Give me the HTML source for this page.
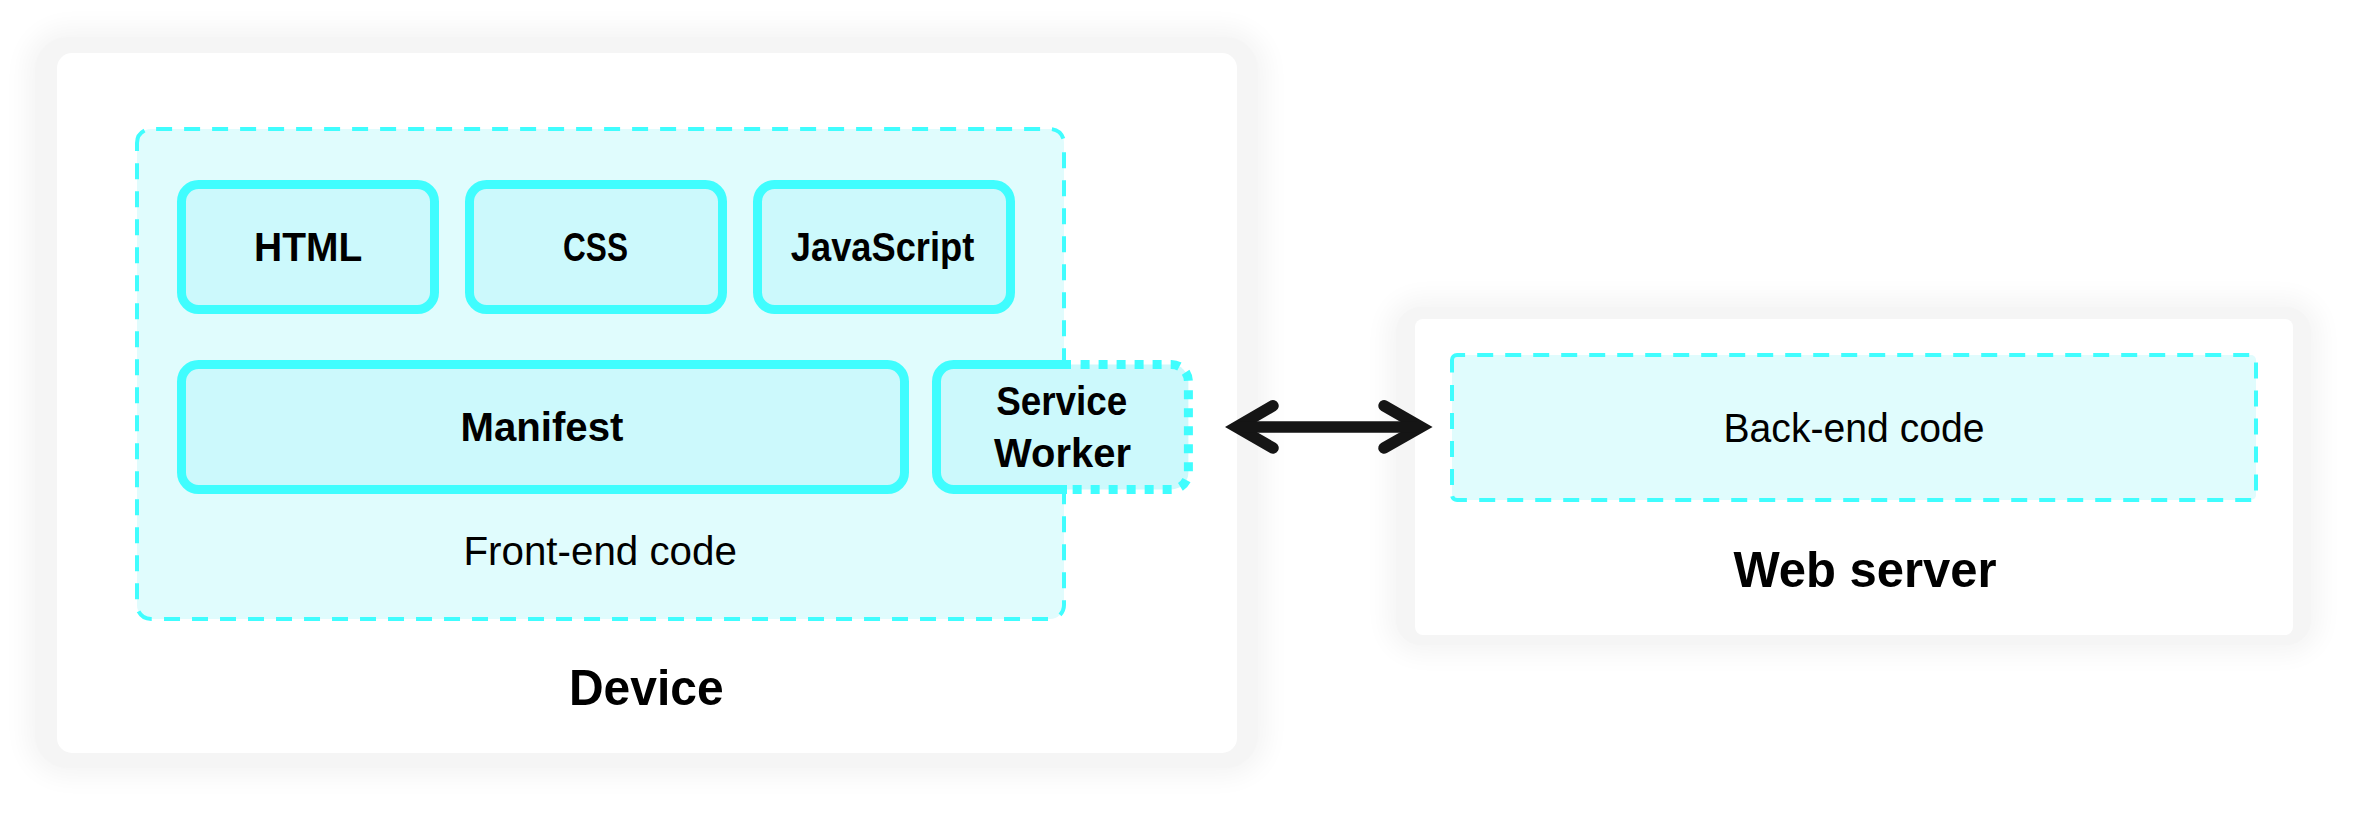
<!DOCTYPE html>
<html><head><meta charset="utf-8"><style>
html,body{margin:0;padding:0;background:#fff;width:2359px;height:820px;overflow:hidden}
.sh{position:absolute;background:#f5f5f5;}
svg{position:absolute;left:0;top:0}
text{font-family:"Liberation Sans",sans-serif;fill:#000}
</style></head><body>
<div class="sh" style="left:35px;top:37px;width:1223px;height:731px;border-radius:33px;box-shadow:0 0 24px 10px #f5f5f5"></div>
<div class="sh" style="left:1396px;top:307px;width:915px;height:338px;border-radius:25px;box-shadow:0 0 24px 10px #f5f5f5"></div>
<svg width="2359" height="820" viewBox="0 0 2359 820">
<defs>
<clipPath id="solidclip"><path d="M0,0 H1071 V430 H1067 V820 H0 Z"/></clipPath>
</defs>
<rect x="57" y="53" width="1180" height="700" rx="15" fill="#fff"/>
<rect x="1415" y="319" width="878" height="316" rx="8" fill="#fff"/>
<path d="M151,129 H1050 A14,14 0 0 1 1064,143 V605 A14,14 0 0 1 1050,619 H151 A14,14 0 0 1 137,605 V143 A14,14 0 0 1 151,129 Z" fill="#e0fcfd" stroke="#40fdfe" stroke-width="4" stroke-dasharray="0.00 5.10 16.00 12.00 16.00 12.00 16.00 12.00 16.00 12.00 16.00 12.00 16.00 12.00 16.00 12.00 16.00 12.00 16.00 12.00 16.00 12.00 16.00 12.00 16.00 12.00 16.00 12.00 16.00 12.00 16.00 12.00 16.00 12.00 16.00 12.00 16.00 12.00 16.00 12.00 16.00 12.00 16.00 12.00 16.00 12.00 16.00 12.00 16.00 12.00 16.00 12.00 16.00 12.00 16.00 12.00 16.00 12.00 16.00 12.00 16.00 12.00 16.00 12.00 16.00 11.90 15.42 13.57 16.00 12.00 16.00 12.00 16.00 12.00 16.00 12.00 16.00 12.00 16.00 12.00 16.00 12.00 16.00 12.00 16.00 12.00 16.00 12.00 16.00 12.00 16.00 12.00 16.00 12.00 16.00 12.00 16.00 12.00 16.00 12.00 15.63 13.06 16.00 12.00 16.00 12.00 16.00 12.00 16.00 12.00 16.00 12.00 16.00 12.00 16.00 12.00 16.00 12.00 16.00 12.00 16.00 12.00 16.00 12.00 16.00 12.00 16.00 12.00 16.00 12.00 16.00 12.00 16.00 12.00 16.00 12.00 16.00 12.00 16.00 12.00 16.00 12.00 16.00 12.00 16.00 12.00 16.00 12.00 16.00 12.00 16.00 12.00 16.00 12.00 16.00 12.00 16.00 12.00 16.00 12.00 16.00 12.00 16.00 12.00 16.00 12.30 15.89 12.40 16.00 12.00 16.00 12.00 16.00 12.00 16.00 12.00 16.00 12.00 16.00 12.00 16.00 12.00 16.00 12.00 16.00 12.00 16.00 12.00 16.00 12.00 16.00 12.00 16.00 12.00 16.00 12.00 16.00 12.00 16.00 12.20 23.19 7.31"/>
<rect x="181.5" y="184.5" width="253" height="125" rx="17" fill="#ccf9fc" stroke="#40fdfe" stroke-width="9"/>
<rect x="469.5" y="184.5" width="253" height="125" rx="17" fill="#ccf9fc" stroke="#40fdfe" stroke-width="9"/>
<rect x="757.5" y="184.5" width="253" height="125" rx="17" fill="#ccf9fc" stroke="#40fdfe" stroke-width="9"/>
<rect x="181.5" y="364.5" width="723" height="125" rx="17" fill="#ccf9fc" stroke="#40fdfe" stroke-width="9"/>
<path d="M953.5,364.5 H1171.4 A17,17 0 0 1 1188.4,381.5 V472.4 A17,17 0 0 1 1171.4,489.4 H953.5 A17,17 0 0 1 936.5,472.4 V381.5 A17,17 0 0 1 953.5,364.5 Z" fill="#ccf9fc" stroke="#40fdfe" stroke-width="9" stroke-dasharray="0.00 127.10 9.00 9.00 9.00 9.00 9.00 9.00 9.00 9.00 9.00 9.10 9.00 8.46 9.00 9.64 9.00 9.00 9.00 9.00 9.00 9.00 9.00 9.00 9.00 9.08 9.00 9.23 9.00 9.00 9.00 9.00 9.00 9.00 9.00 9.00 9.00 9.00 9.00 263.81"/>
<path d="M953.5,364.5 H1171.4 A17,17 0 0 1 1188.4,381.5 V472.4 A17,17 0 0 1 1171.4,489.4 H953.5 A17,17 0 0 1 936.5,472.4 V381.5 A17,17 0 0 1 953.5,364.5 Z" fill="none" stroke="#40fdfe" stroke-width="9" clip-path="url(#solidclip)"/>
<path d="M1457,355 H2251 A5,5 0 0 1 2256,360 V495 A5,5 0 0 1 2251,500 H1457 A5,5 0 0 1 1452,495 V360 A5,5 0 0 1 1457,355 Z" fill="#e0fcfd" stroke="#40fdfe" stroke-width="4" stroke-dasharray="0.00 0.00 8.10 12.10 16.00 12.00 16.00 12.00 16.00 12.00 16.00 12.00 16.00 12.00 16.00 12.00 16.00 12.00 16.00 12.00 16.00 12.00 16.00 12.00 16.00 12.00 16.00 12.00 16.00 12.00 16.00 12.00 16.00 12.00 16.00 12.00 16.00 12.00 16.00 12.00 16.00 12.00 16.00 12.00 16.00 12.00 16.00 12.00 16.00 12.00 16.00 12.00 16.00 12.00 16.00 12.00 16.00 12.00 16.00 11.95 16.00 12.00 16.00 12.00 16.00 12.00 16.00 12.00 16.00 11.95 16.00 12.00 16.00 12.00 16.00 12.00 16.00 12.00 16.00 12.00 16.00 12.00 16.00 12.00 16.00 12.00 16.00 12.00 16.00 12.00 16.00 12.00 16.00 12.00 16.00 12.00 16.00 12.00 16.00 12.00 16.00 12.00 16.00 12.00 16.00 12.00 16.00 12.00 16.00 12.00 16.00 12.00 16.00 12.00 16.00 12.00 16.00 12.00 16.00 12.00 16.00 12.00 16.00 12.00 16.00 12.30 16.19 11.26 16.00 12.00 16.00 12.00 16.00 12.00 16.00 12.50 21.05 0.00"/>
<g fill="none" stroke="#151515" stroke-width="11.5" stroke-linecap="round" stroke-linejoin="miter" stroke-miterlimit="10">
<path d="M1273 405.8 L1236.5 427 L1273 448"/>
<path d="M1384 405.8 L1421 427 L1384 448"/>
<path d="M1240 427 L1417 427" stroke-linecap="butt"/>
</g>
<text transform="translate(254.07,261.00) scale(0.9600,1)" font-weight="bold" font-size="40.58">HTML</text>
<text transform="translate(563.04,261.00) scale(0.7779,1)" font-weight="bold" font-size="40.58">CSS</text>
<text transform="translate(790.87,261.00) scale(0.8936,1)" font-weight="bold" font-size="40.58">JavaScript</text>
<text transform="translate(460.49,441.00) scale(0.9901,1)" font-weight="bold" font-size="40.58">Manifest</text>
<text transform="translate(996.19,414.70) scale(0.9246,1)" font-weight="bold" font-size="39.86">Service</text>
<text transform="translate(994.10,467.40) scale(1.0029,1)" font-weight="bold" font-size="39.86">Worker</text>
<text transform="translate(463.47,565.00) scale(0.9939,1)" font-weight="normal" font-size="40.58">Front-end code</text>
<text transform="translate(568.94,705.00) scale(0.9465,1)" font-weight="bold" font-size="50.72">Device</text>
<text transform="translate(1723.47,442.00) scale(0.9646,1)" font-weight="normal" font-size="40.58">Back-end code</text>
<text transform="translate(1733.50,587.00) scale(0.9655,1)" font-weight="bold" font-size="50.72">Web server</text>
</svg>
</body></html>
